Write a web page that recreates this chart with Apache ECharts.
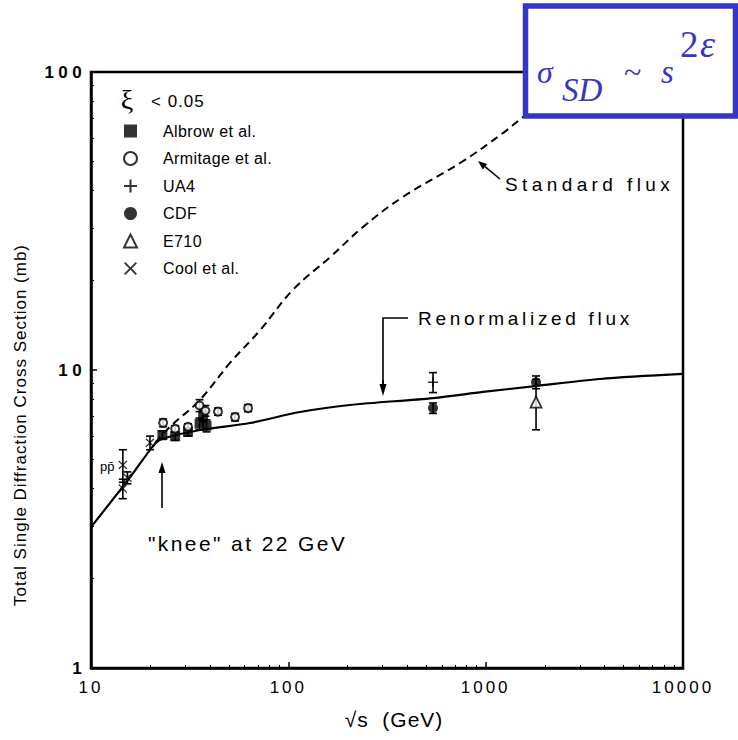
<!DOCTYPE html>
<html><head><meta charset="utf-8">
<script src="https://cdn.jsdelivr.net/npm/echarts@6/dist/echarts.min.js"></script>
<style>
html,body{margin:0;padding:0;background:#fff}
#c{width:738px;height:740px}
#c text[style*="lsA"]{letter-spacing:4.4px}
#c text[style*="lsB"]{letter-spacing:3.7px}
#c text[style*="lsC"]{letter-spacing:2.4px}
#c text[style*="lsD"]{letter-spacing:3px}
#c text[style*="lsE"]{letter-spacing:1px}
#c text[style*="lsF"]{letter-spacing:0.4px}
</style>
</head><body><div id="c"></div><script>
// ---- data ----
const albrowX = [23.0, 26.7, 31.0, 35.5, 37.0, 38.5];
const albrowY = [6.05, 6.0, 6.2, 6.6, 7.0, 6.5];
const albrowErr = [0.2, 0.2, 0.2, 0.3, 0.3, 0.3];

const armitageX = [23.2, 26.7, 31.0, 35.5, 38.0, 44.0, 53.7, 62.5];
const armitageY = [6.65, 6.35, 6.45, 7.6, 7.3, 7.25, 6.95, 7.45];
const armitageErr = [0.2, 0.15, 0.15, 0.35, 0.3, 0.2, 0.2, 0.2];

const ua4X = [541];
const ua4Y = [9.1];
const ua4Err = [0.7];

const cdfX = [541, 1800];
const cdfY = [7.45, 9.1];
const cdfErr = [0.3, 0.45];

const e710X = [1800];
const e710Y = [7.8];
const e710Err = [1.5];

const coolX = [14.5, 15.3, 14.5, 19.9];
const coolY = [4.8, 4.35, 4.0, 5.7];
const coolErr = [0.6, 0.2, 0.3, 0.3];

const renormX = [10, 15.8, 21.1, 23.7, 35.7, 64, 114.5, 205, 541, 970, 1778, 3800, 10000];
const renormY = [2.97, 4.37, 5.65, 5.91, 6.29, 6.64, 7.23, 7.63, 8.05, 8.44, 8.83, 9.33, 9.70];

const standardX = [21.1, 25.1, 35.7, 50.6, 71.9, 105.6, 162.7, 239, 381, 742, 1225, 1528, 2382];
const standardY = [5.69, 6.44, 7.95, 10.56, 13.6, 18.6, 23.9, 30.2, 38.1, 49.5, 62.4, 70.2, 88.4];

const xTickLabels = ['10', '100', '1000', '10000'];
const yTickLabels = ['1', '10', '100'];

// ---- helpers ----
const pts = (xs, ys) => xs.map((x, i) => [x, ys[i]]);
const errs = (xs, ys, es) => xs.map((x, i) => [x, ys[i] - es[i], ys[i] + es[i]]);
const PLUS = 'path://M4.2,0H5.8V4.2H10V5.8H5.8V10H4.2V5.8H0V4.2H4.2Z';
const CROSS = 'path://M1,0L5,4L9,0L10,1L6,5L10,9L9,10L5,6L1,10L0,9L4,5L0,1Z';
const F = (tag) => '"Liberation Sans", ' + tag + ', sans-serif';
const SERIF = '"Liberation Serif", serif';

const errorData = [].concat(
  errs(albrowX, albrowY, albrowErr),
  errs(armitageX, armitageY, armitageErr),
  errs(ua4X, ua4Y, ua4Err),
  errs(cdfX, cdfY, cdfErr),
  errs(e710X, e710Y, e710Err),
  errs(coolX, coolY, coolErr)
);

function arrow(x1, y1, x2, y2, head) {
  const a = Math.atan2(y2 - y1, x2 - x1);
  const h = head || 9, w = 3.5;
  const bx = x2 - h * Math.cos(a), by = y2 - h * Math.sin(a);
  const px = -Math.sin(a) * w, py = Math.cos(a) * w;
  return [
    { type: 'line', shape: { x1, y1, x2: bx, y2: by }, style: { stroke: '#000', lineWidth: 1.6 } },
    { type: 'polygon', shape: { points: [[x2, y2], [bx + px, by + py], [bx - px, by - py]] }, style: { fill: '#000' } }
  ];
}

const chart = echarts.init(document.getElementById('c'), null, { renderer: 'svg' });

const blue = '#3535C8';
const boxZ = 100;
const graphics = [].concat(
  arrow(500, 179, 478, 161, 9),
  arrow(162, 508, 162, 462, 11),
  [{ type: 'polyline', shape: { points: [[408, 318], [383, 318], [383, 385]] }, style: { stroke: '#000', lineWidth: 1.6, fill: null } }],
  arrow(383, 380, 383, 396, 12),
  [
    { type: 'text', x: 505, y: 184, style: { text: 'Standard flux', font: '19px ' + F('lsA'), fill: '#000', verticalAlign: 'middle' } },
    { type: 'text', x: 418, y: 318, style: { text: 'Renormalized flux', font: '19px ' + F('lsB'), fill: '#000', verticalAlign: 'middle' } },
    { type: 'text', x: 148, y: 543, style: { text: '"knee" at 22 GeV', font: '21px ' + F('lsC'), fill: '#000', verticalAlign: 'middle' } },
    { type: 'text', x: 100, y: 466, style: { text: 'pp\u0304', font: '13px ' + F('ls0'), fill: '#000', verticalAlign: 'middle' } },
    { type: 'text', x: 127, y: 99, style: { text: '\u03be', font: '28px ' + SERIF, fill: '#000', align: 'center', verticalAlign: 'middle' } },
    { type: 'text', x: 151, y: 101, style: { text: '< 0.05', font: '17px ' + F('lsE'), fill: '#000', verticalAlign: 'middle' } },
    { type: 'rect', z: boxZ, shape: { x: 525.5, y: 6, width: 210, height: 110 }, style: { fill: '#fff', stroke: blue, lineWidth: 5.5 } },
    { type: 'text', z: boxZ + 1, x: 537, y: 72, style: { text: '\u03c3', font: 'italic 32px ' + SERIF, fill: blue, verticalAlign: 'middle' } },
    { type: 'text', z: boxZ + 1, x: 562, y: 90, style: { text: 'SD', font: 'italic 33px ' + SERIF, fill: blue, verticalAlign: 'middle' } },
    { type: 'text', z: boxZ + 1, x: 624, y: 72, style: { text: '~', font: '32px ' + SERIF, fill: blue, verticalAlign: 'middle' } },
    { type: 'text', z: boxZ + 1, x: 661, y: 72, style: { text: 's', font: 'italic 33px ' + SERIF, fill: blue, verticalAlign: 'middle' } },
    { type: 'text', z: boxZ + 1, x: 680, y: 44, style: { text: '2', font: '37px ' + SERIF, fill: blue, verticalAlign: 'middle' } },
    { type: 'text', z: boxZ + 1, x: 700, y: 44, style: { text: '\u03b5', font: 'italic 38px ' + SERIF, fill: blue, verticalAlign: 'middle' } }
  ]
);

const scatterBase = { type: 'scatter', z: 5, symbolSize: 10 };

chart.setOption({
  animation: false,
  backgroundColor: '#fff',
  grid: { left: 91, right: 55, top: 72, bottom: 72, show: true, borderColor: '#000', borderWidth: 2.5, backgroundColor: 'transparent' },
  legend: {
    orient: 'vertical', left: 118, top: 118, itemWidth: 13, itemHeight: 13, itemGap: 11.5,
    data: ['Albrow et al.', 'Armitage et al.', 'UA4', 'CDF', 'E710', 'Cool et al.'],
    textStyle: { fontFamily: F('lsF'), fontSize: 16, color: '#000', padding: [0, 0, 0, 21], lineHeight: 14 },
    selectedMode: false
  },
  xAxis: {
    type: 'log', logBase: 10, min: 10, max: 10000,
    name: '\u221As  (GeV)', nameLocation: 'middle', nameGap: 41,
    nameTextStyle: { fontFamily: F('lsE'), fontSize: 21, color: '#000', padding: [0, 0, 0, 14] },
    axisLine: { show: true, lineStyle: { color: '#000', width: 2.5 } },
    axisTick: { show: true, inside: true, length: 6, lineStyle: { color: '#000', width: 1.5 } },
    minorTick: { show: true, splitNumber: 9, length: 3, lineStyle: { color: '#000' } },
    splitLine: { show: false },
    axisLabel: {
      fontFamily: F('lsD'), fontSize: 17, color: '#000', margin: 11,
      formatter: v => { const i = Math.round(Math.log10(v)) - 1; return xTickLabels[i] || ''; }
    }
  },
  yAxis: {
    type: 'log', logBase: 10, min: 1, max: 100,
    name: 'Total Single Diffraction Cross Section (mb)', nameLocation: 'middle', nameGap: 62,
    nameTextStyle: { fontFamily: F('lsE'), fontSize: 17, color: '#000', padding: [0, 110, 0, 0] },
    axisLine: { show: true, lineStyle: { color: '#000', width: 2.5 } },
    axisTick: { show: true, inside: true, length: 6, lineStyle: { color: '#000', width: 1.5 } },
    minorTick: { show: true, splitNumber: 9, length: 3, lineStyle: { color: '#000' } },
    splitLine: { show: false },
    axisLabel: {
      fontFamily: F('lsA'), fontSize: 17, fontWeight: 'bold', color: '#000', margin: 5,
      formatter: v => { const i = Math.round(Math.log10(v)); return yTickLabels[i] || ''; }
    }
  },
  series: [
    { name: 'Standard flux', type: 'line', data: pts(standardX, standardY), symbol: 'none', smooth: 0.4, z: 3,
      lineStyle: { color: '#000', width: 2, type: [8, 5] } },
    { name: 'Renormalized flux', type: 'line', data: pts(renormX, renormY), symbol: 'none', smooth: 0.3, z: 3,
      lineStyle: { color: '#000', width: 2.2 } },
    {
      name: 'errors', type: 'custom', data: errorData, z: 4, silent: true,
      encode: { x: 0, y: [1, 2] },
      renderItem: (params, api) => {
        const x = api.value(0), lo = api.value(1), hi = api.value(2);
        const p1 = api.coord([x, lo]), p2 = api.coord([x, hi]);
        const w = 4;
        const st = { stroke: '#000', lineWidth: 1.6 };
        return { type: 'group', children: [
          { type: 'line', shape: { x1: p1[0], y1: p1[1], x2: p2[0], y2: p2[1] }, style: st },
          { type: 'line', shape: { x1: p1[0] - w, y1: p1[1], x2: p1[0] + w, y2: p1[1] }, style: st },
          { type: 'line', shape: { x1: p2[0] - w, y1: p2[1], x2: p2[0] + w, y2: p2[1] }, style: st }
        ] };
      }
    },
    Object.assign({}, scatterBase, { name: 'Albrow et al.', data: pts(albrowX, albrowY), symbol: 'rect', symbolSize: 10,
      itemStyle: { color: '#000' } }),
    Object.assign({}, scatterBase, { name: 'Armitage et al.', data: pts(armitageX, armitageY), symbol: 'circle', symbolSize: 8,
      itemStyle: { color: '#fff', borderColor: '#000', borderWidth: 2 } }),
    Object.assign({}, scatterBase, { name: 'UA4', data: pts(ua4X, ua4Y), symbol: PLUS, symbolSize: 10,
      itemStyle: { color: '#000' } }),
    Object.assign({}, scatterBase, { name: 'CDF', data: pts(cdfX, cdfY), symbol: 'circle', symbolSize: 10,
      itemStyle: { color: '#000' } }),
    Object.assign({}, scatterBase, { name: 'E710', data: pts(e710X, e710Y), symbol: 'triangle', symbolSize: 11,
      itemStyle: { color: '#fff', borderColor: '#000', borderWidth: 1.8 } }),
    Object.assign({}, scatterBase, { name: 'Cool et al.', data: pts(coolX, coolY), symbol: CROSS, symbolSize: 9,
      itemStyle: { color: '#000' } })
  ],
  graphic: graphics
});
</script></body></html>
